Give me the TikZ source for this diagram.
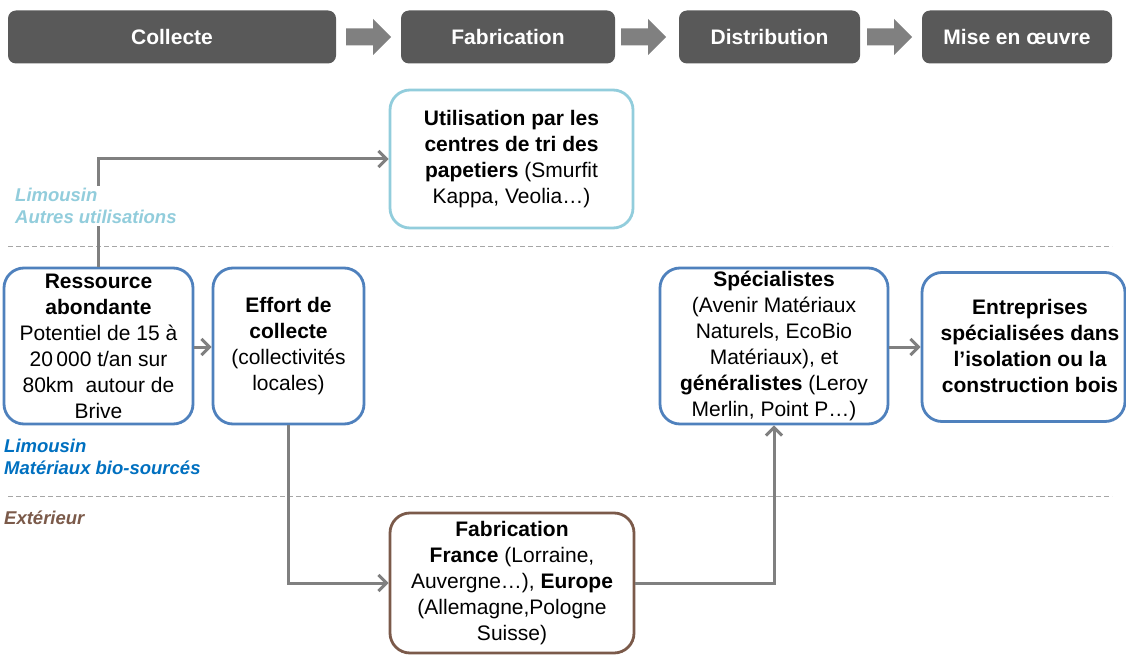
\documentclass[tikz,border=0pt]{standalone}
\usepackage{fontspec}
\setmainfont{Liberation Sans}
\usetikzlibrary{arrows.meta}
\definecolor{hdr}{HTML}{595959}
\definecolor{hdrarrow}{HTML}{808080}
\definecolor{conn}{HTML}{808080}
\definecolor{aqua}{HTML}{92CDDC}
\definecolor{bleu}{HTML}{4F81BD}
\definecolor{bleutxt}{HTML}{0070C0}
\definecolor{brun}{HTML}{7B5A4A}
\definecolor{sep}{HTML}{A6A6A6}
\tikzset{
  header/.style={fill=hdr, rounded corners=8pt, text=white, font=\fontsize{21}{25}\selectfont\bfseries,
    minimum height=53pt, inner sep=0pt},
  blockarrow/.style={fill=hdrarrow},
  card/.style={draw, line width=2.8pt, rounded corners=20pt, fill=white, align=center, inner sep=0pt,
    font=\fontsize{21}{26}\selectfont},
  conn/.style={draw=conn, line width=3pt, -{Straight Barb[length=8pt,width=16pt,line width=3pt]}},
  lane/.style={align=left, font=\fontsize{18.5}{22}\selectfont\bfseries\itshape, inner sep=0pt, anchor=north west},
  sepline/.style={draw=sep, line width=1pt, dash pattern=on 5pt off 3pt},
}
% block arrow: #1 = left end of the shaft, on the mid line
\newcommand{\chainarrow}[1]{%
  \fill[blockarrow] (#1) ++(0,-8.5) -- ++(27,0) -- ++(0,-9.5) -- ++(18,18) -- ++(-18,18)
    -- ++(0,-9.5) -- ++(-27,0) -- cycle;}
\begin{document}
\begin{tikzpicture}[x=1pt,y=-1pt]
\path[use as bounding box, clip] (0,0) rectangle (1126,655);
\fill[white] (0,0) rectangle (1126,655);

% value chain header
\node[header, minimum width=328pt] (h1) at (172,37) {Collecte};
\node[header, minimum width=214pt] (h2) at (508,37) {Fabrication};
\node[header, minimum width=181pt] (h3) at (769.5,37) {Distribution};
\node[header, minimum width=190pt] (h4) at (1017,37) {Mise en œuvre};
\coordinate (a1) at (346,37);
\coordinate (a2) at (621,37);
\coordinate (a3) at (867,37);
\chainarrow{a1}
\chainarrow{a2}
\chainarrow{a3}

% lane separators
\draw[sepline] (8,246) -- (1112,246);
\draw[sepline] (8,496) -- (1112,496);

% boxes
\node[card, draw=aqua, minimum width=243pt, minimum height=138pt] (util) at (511.5,159)
  {\textbf{Utilisation par les}\\\textbf{centres de tri des}\\\textbf{papetiers} (Smurfit\\Kappa, Veolia…)};
\node[card, draw=bleu, minimum width=189pt, minimum height=156pt] (res) at (98.5,346)
  {\textbf{Ressource}\\\textbf{abondante}\\Potentiel de 15 à\\20\,000 t/an sur\\80km\ \ autour de\\Brive};
\node[card, draw=bleu, minimum width=151pt, minimum height=156pt] (eff) at (288.5,346)
  {\textbf{Effort de}\\\textbf{collecte}\\(collectivités\\locales)};
\node[card, draw=bleu, minimum width=228pt, minimum height=156pt] (spec) at (774,346)
  {\textbf{Spécialistes}\\(Avenir Matériaux\\Naturels, EcoBio\\Matériaux), et\\\textbf{généralistes} (Leroy\\Merlin, Point P…)};
\node[card, draw=bleu, minimum width=203pt, minimum height=149pt] (entr) at (1023.5,347) {};
\node[align=center, font=\fontsize{21}{26}\selectfont\bfseries, inner sep=0pt] (entrtxt) at (1030,346)
  {Entreprises\\spécialisées dans\\l’isolation ou la\\construction bois};
\node[card, draw=brun, minimum width=244pt, minimum height=140pt] (fab) at (512,583)
  {\textbf{Fabrication}\\\textbf{France} (Lorraine,\\Auvergne…), \textbf{Europe}\\(Allemagne,Pologne\\Suisse)};

% connectors
\draw[conn] (res.north) |- (util.west);
\draw[conn] (res.east |- 0,347) -- (eff.west |- 0,347);
\draw[conn] (eff.south) |- (fab.west);
\draw[conn] (fab.east) -| (spec.south);
\draw[conn] (spec.east |- 0,347) -- (entr.west |- 0,347);

% lane labels
\node[lane, text=aqua, fill=white, inner ysep=2pt] (l1) at (15,186) {Limousin\\Autres utilisations};
\node[lane, text=bleutxt] (l2) at (4,439) {Limousin\\Matériaux bio-sourcés};
\node[lane, text=brun] (l3) at (4,511) {Extérieur};
\end{tikzpicture}
\end{document}
